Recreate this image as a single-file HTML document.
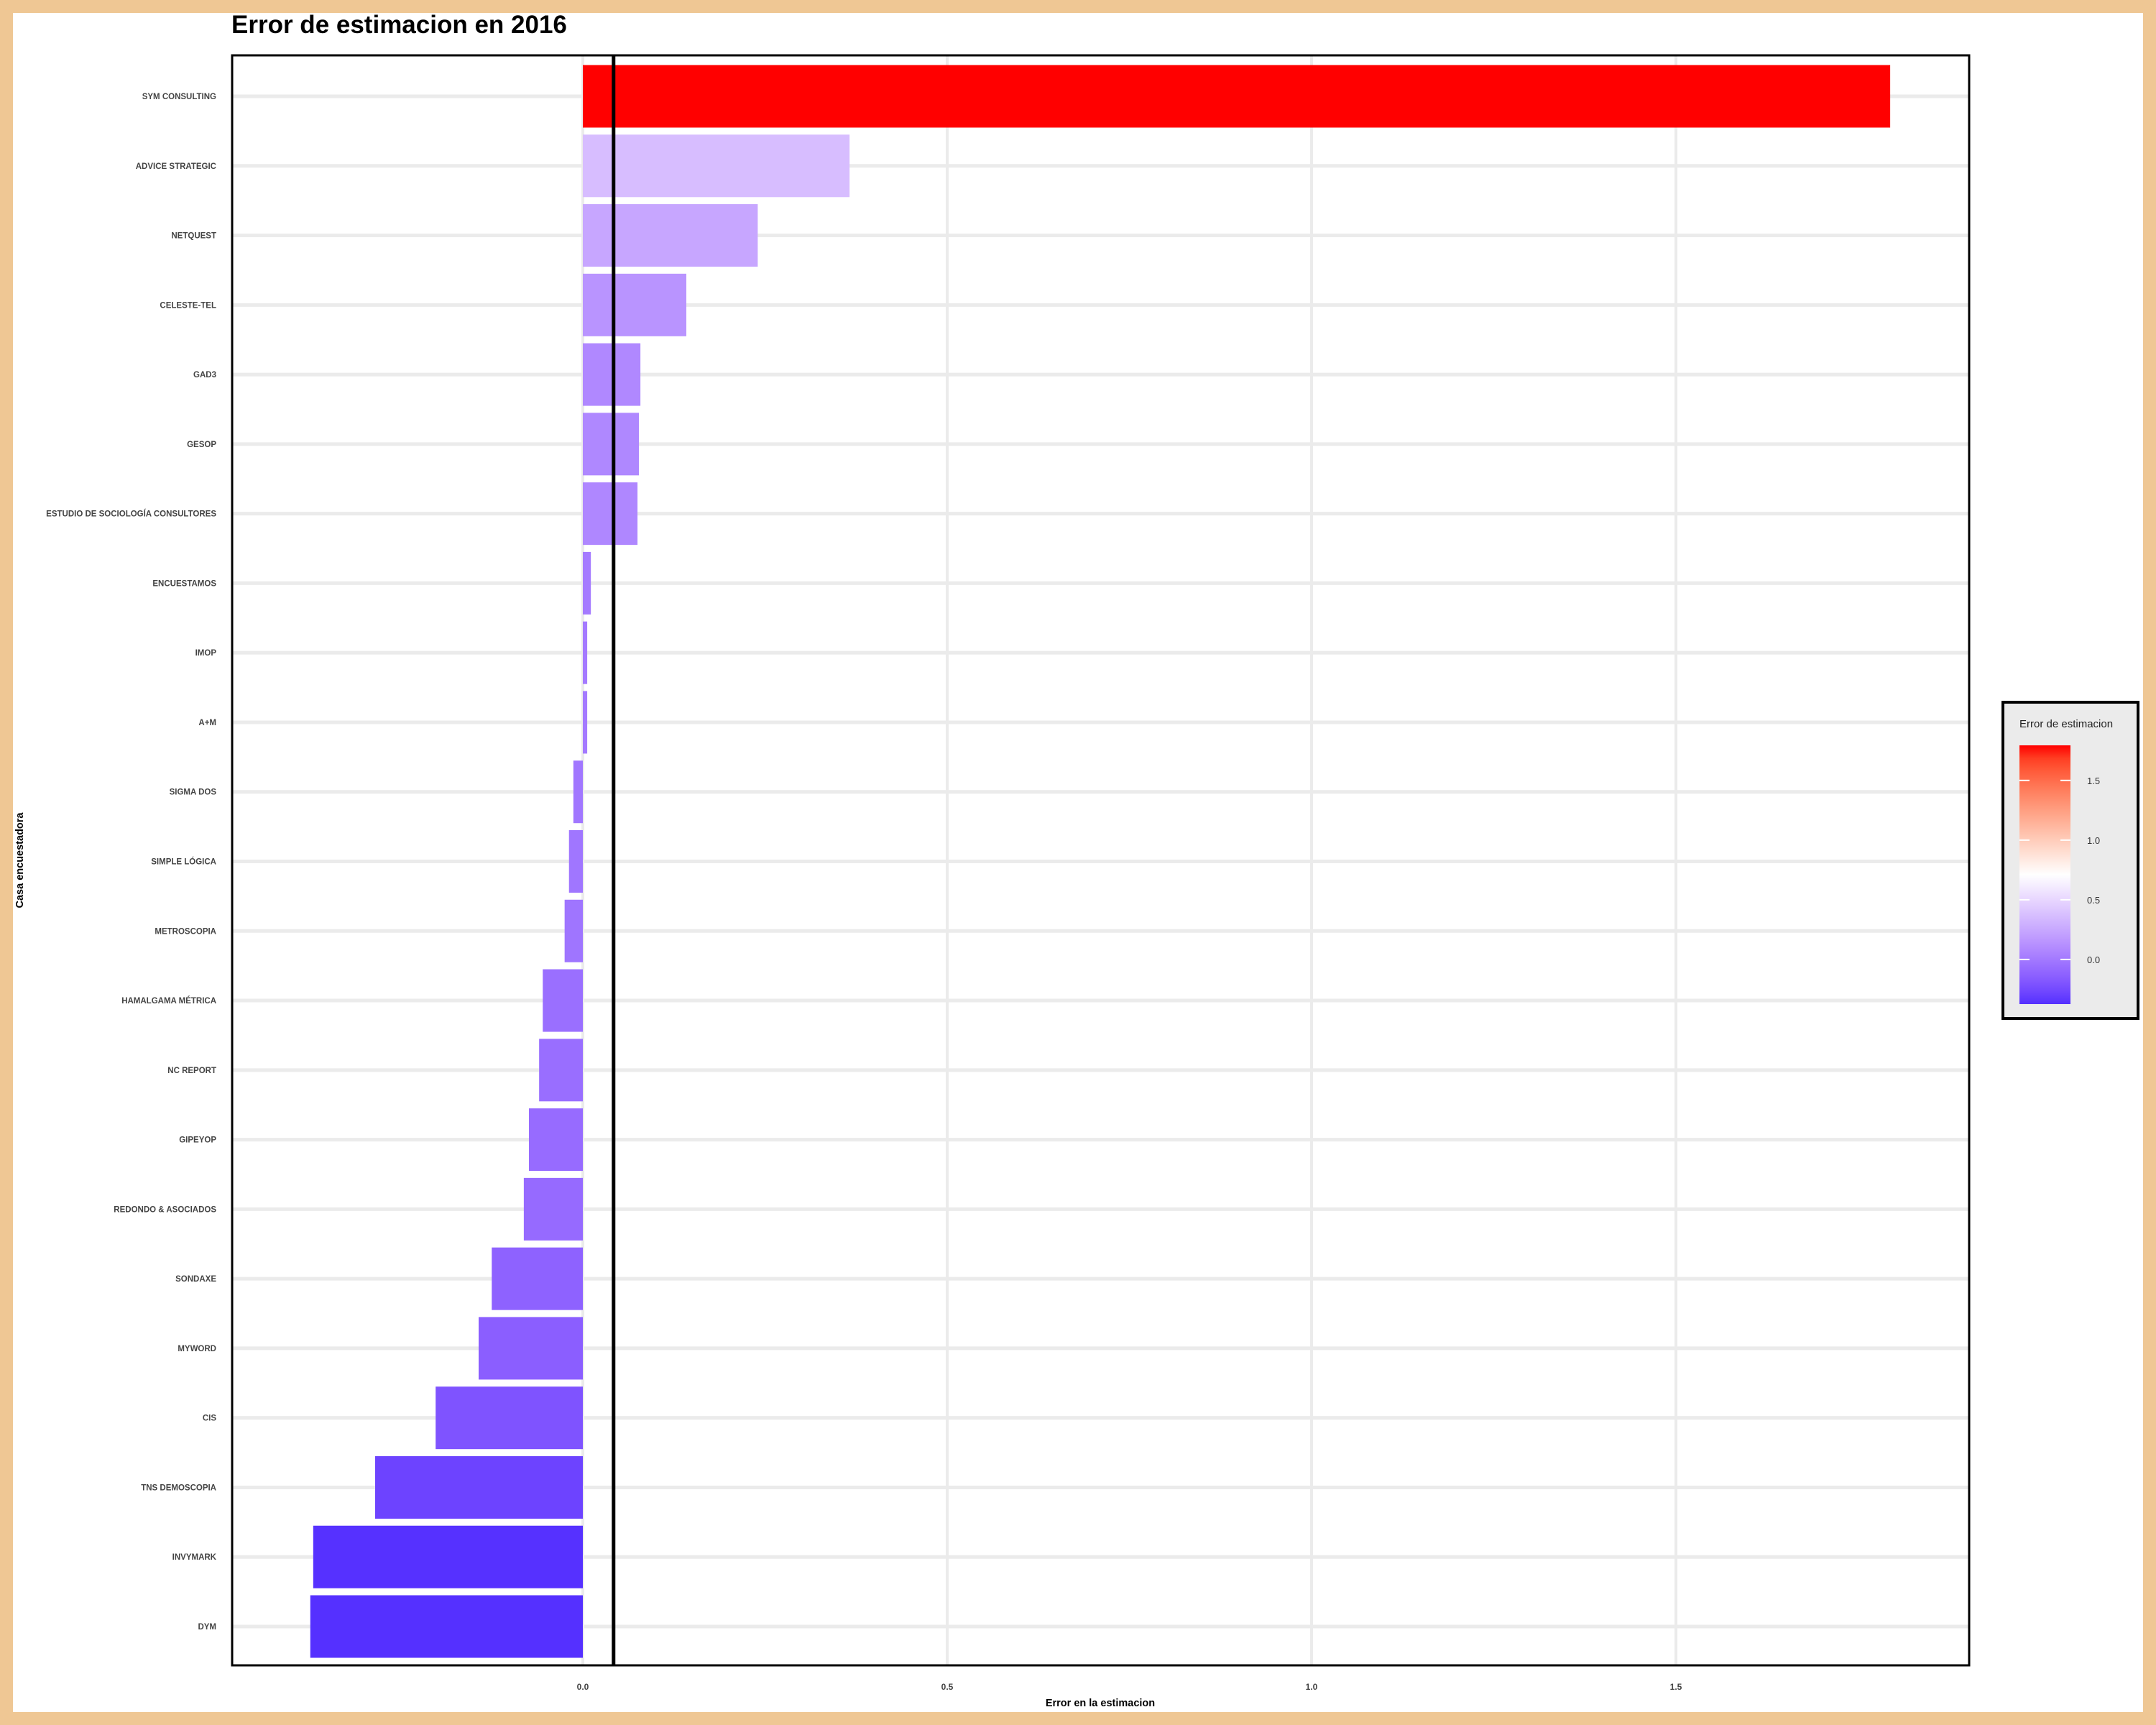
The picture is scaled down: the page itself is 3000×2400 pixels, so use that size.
<!DOCTYPE html>
<html><head><meta charset="utf-8"><style>
html,body{margin:0;padding:0;background:#EFC794;}
#frame{position:absolute;left:0;top:0;width:3000px;height:2400px;background:#EFC794;}
svg{position:absolute;left:0;top:0;font-family:"Liberation Sans",sans-serif;}
</style></head><body>
<div id="frame">
<svg id="chart" width="3000" height="2400"></svg>
</div>
<script>
const categories=["SYM CONSULTING","ADVICE STRATEGIC","NETQUEST","CELESTE-TEL","GAD3","GESOP","ESTUDIO DE SOCIOLOGÍA CONSULTORES","ENCUESTAMOS","IMOP","A+M","SIGMA DOS","SIMPLE LÓGICA","METROSCOPIA","HAMALGAMA MÉTRICA","NC REPORT","GIPEYOP","REDONDO & ASOCIADOS","SONDAXE","MYWORD","CIS","TNS DEMOSCOPIA","INVYMARK","DYM"];
const errors=[1.794,0.366,0.240,0.142,0.079,0.077,0.075,0.011,0.006,0.006,-0.013,-0.019,-0.025,-0.055,-0.060,-0.074,-0.081,-0.125,-0.143,-0.202,-0.285,-0.370,-0.374];
const xTicks=[0,0.5,1.0,1.5];
const xTickLabels=["0.0","0.5","1.0","1.5"];
const legendTicks=[0,0.5,1.0,1.5];

const NS="http://www.w3.org/2000/svg";
const svg=document.getElementById('chart');
function el(tag,attrs,parent){const e=document.createElementNS(NS,tag);for(const k in attrs)e.setAttribute(k,attrs[k]);(parent||svg).appendChild(e);return e;}

const PL=323,PR=2740,PT=77,PB=2317;
const X0=811,XS=1014;
const xScale=v=>X0+v*XS;
const ROW0=134,ROWSTEP=(2263-134)/22,BARH=87;
const yScale=i=>ROW0+i*ROWSTEP;

function srgb2lin(c){c/=255;return c<=0.04045?c/12.92:Math.pow((c+0.055)/1.055,2.4);}
function lin2srgb(c){c=c<=0.0031308?12.92*c:1.055*Math.pow(c,1/2.4)-0.055;return Math.max(0,Math.min(255,Math.round(c*255)));}
function toLab(rgb){const [r,g,b]=rgb.map(srgb2lin);let X=(0.4124*r+0.3576*g+0.1805*b)/0.95047,Y=0.2126*r+0.7152*g+0.0722*b,Z=(0.0193*r+0.1192*g+0.9505*b)/1.08883;const f=t=>t>0.008856?Math.cbrt(t):7.787*t+16/116;const fx=f(X),fy=f(Y),fz=f(Z);return [116*fy-16,500*(fx-fy),200*(fy-fz)];}
function fromLab(l){const fy=(l[0]+16)/116,fx=fy+l[1]/500,fz=fy-l[2]/200;const fi=t=>t*t*t>0.008856?t*t*t:(t-16/116)/7.787;const X=fi(fx)*0.95047,Y=fi(fy),Z=fi(fz)*1.08883;const r=3.2406*X-1.5372*Y-0.4986*Z,g=-0.9689*X+1.8758*Y+0.0415*Z,b=0.0557*X-0.2040*Y+1.0570*Z;return `rgb(${lin2srgb(r)},${lin2srgb(g)},${lin2srgb(b)})`;}
const LOW=toLab([85,48,255]),MID=toLab([255,255,255]),HIGH=toLab([255,0,0]);
const vmin=Math.min(...errors),vmax=Math.max(...errors),vmid=(vmin+vmax)/2;
function colorOf(v){let a,b,t;if(v<=vmid){a=LOW;b=MID;t=(v-vmin)/(vmid-vmin);}else{a=MID;b=HIGH;t=(v-vmid)/(vmax-vmid);}t=Math.max(0,Math.min(1,t));return fromLab([0,1,2].map(i=>a[i]+(b[i]-a[i])*t));}

const bg=el('rect',{x:18,y:18,width:2964,height:2364,fill:'#ffffff'});



xTicks.forEach(v=>{const g=el('line',{x1:xScale(v),x2:xScale(v),y1:PT,y2:PB,stroke:'#ebebeb','stroke-width':4});

});
categories.forEach((c,i)=>{const g=el('line',{x1:PL,x2:PR,y1:yScale(i),y2:yScale(i),stroke:'#ebebeb','stroke-width':5});

});

errors.forEach((v,i)=>{const x1=xScale(Math.min(0,v)),x2=xScale(Math.max(0,v));
const r=el('rect',{x:x1,y:yScale(i)-BARH/2,width:Math.max(x2-x1,1),height:BARH,fill:colorOf(v)});

});

const mean=errors.reduce((a,b)=>a+b,0)/errors.length;
const ml=el('line',{x1:xScale(mean),x2:xScale(mean),y1:PT,y2:PB,stroke:'#000',"stroke-width":5});



const pb=el('rect',{x:PL,y:PT,width:PR-PL,height:PB-PT,fill:'none',stroke:'#000','stroke-width':3});



categories.forEach((c,i)=>{const t=el('text',{x:301,y:yScale(i)+4,'text-anchor':'end','font-size':11.5,'font-weight':'bold',fill:'#444'});t.textContent=c;

});
xTicks.forEach((v,i)=>{const t=el('text',{x:xScale(v),y:2351,'text-anchor':'middle','font-size':12,'font-weight':'bold',fill:'#444'});t.textContent=xTickLabels[i];

});

const tt=el('text',{x:322,y:46,'font-size':35,'font-weight':'bold',fill:'#000'});tt.textContent='Error de estimacion en 2016';


const xt=el('text',{x:1531,y:2374,'text-anchor':'middle','font-size':14.5,'font-weight':'bold',fill:'#000'});xt.textContent='Error en la estimacion';


const yt=el('text',{x:0,y:0,'text-anchor':'middle','font-size':14.5,'font-weight':'bold',fill:'#000',transform:'translate(32,1197) rotate(-90)'});yt.textContent='Casa encuestadora';



const lg=el('g',{});


el('rect',{x:2787,y:977,width:188,height:440,fill:'#ebebeb',stroke:'#000','stroke-width':4},lg);
const lt=el('text',{x:2810,y:1012,'font-size':15,fill:'#222'},lg);lt.textContent='Error de estimacion';


const CBT=1037,CBB=1397,CBL=2810,CBW=71;
const defs=el('defs',{});
const grad=el('linearGradient',{id:'cb',x1:0,y1:0,x2:0,y2:1},defs);
for(let k=0;k<=20;k++){el('stop',{offset:k/20,'stop-color':colorOf(vmax-k/20*(vmax-vmin))},grad);}
const cb=el('rect',{x:CBL,y:CBT,width:CBW,height:CBB-CBT,fill:'url(#cb)'},lg);


const ly=v=>CBT+(vmax-v)/(vmax-vmin)*(CBB-CBT);
legendTicks.forEach(v=>{const y=ly(v);
el('line',{x1:CBL,x2:CBL+14,y1:y,y2:y,stroke:'#fff','stroke-width':2},lg);
el('line',{x1:CBL+CBW-14,x2:CBL+CBW,y1:y,y2:y,stroke:'#fff','stroke-width':2},lg);
const t=el('text',{x:2904,y:y+5,'font-size':13,fill:'#333'},lg);t.textContent=v.toFixed(1);

});
</script>
</body></html>
